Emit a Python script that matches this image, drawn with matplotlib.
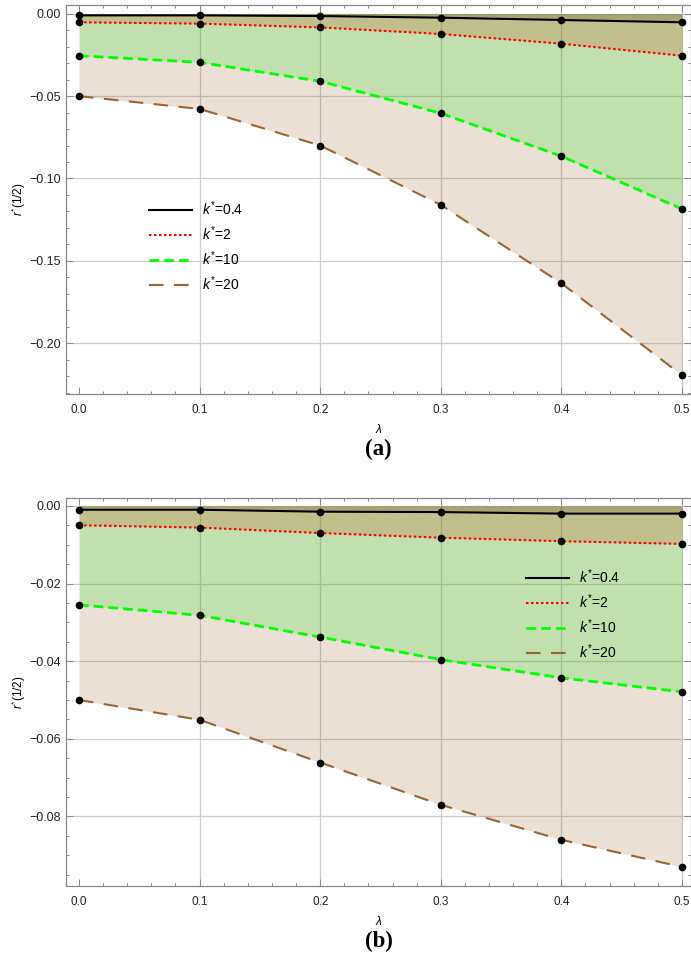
import matplotlib
matplotlib.use('Agg')
import matplotlib.pyplot as plt
from matplotlib.ticker import MultipleLocator, FuncFormatter

plt.rcParams['font.family'] = ['Liberation Sans', 'DejaVu Sans']
plt.rcParams['mathtext.fontset'] = 'custom'
plt.rcParams['mathtext.it'] = 'Liberation Sans:italic'
plt.rcParams['mathtext.rm'] = 'Liberation Sans'

# lambda values
lam = [0.0, 0.1, 0.2, 0.3, 0.4, 0.5]
labels = [r'$k^{*}$=0.4', r'$k^{*}$=2', r'$k^{*}$=10', r'$k^{*}$=20']

# panel (a)
a_k04 = [-0.0010, -0.0010, -0.0014, -0.0024, -0.0038, -0.0052]
a_k2 = [-0.0052, -0.0060, -0.0083, -0.0123, -0.0182, -0.0255]
a_k10 = [-0.0255, -0.0295, -0.0410, -0.0604, -0.0865, -0.1185]
a_k20 = [-0.0500, -0.0578, -0.0800, -0.1160, -0.1636, -0.2194]

# panel (b)
b_k04 = [-0.0010, -0.0010, -0.0015, -0.0016, -0.0020, -0.0020]
b_k2 = [-0.0050, -0.0056, -0.0070, -0.0082, -0.0091, -0.0098]
b_k10 = [-0.0255, -0.0282, -0.0338, -0.0396, -0.0443, -0.0479]
b_k20 = [-0.0500, -0.0551, -0.0661, -0.0770, -0.0860, -0.0930]

cols = ['black', 'red', (0.0, 1.0, 0.0), (0.6, 0.4, 0.2)]
dashes = [None, (1.2, 1.2), (3.5, 1.8), (7, 5)]
widths = [1.5, 1.5, 2.0, 1.5]


def fmt(v, pos, nd):
    s = ('%.' + str(nd) + 'f') % abs(v)
    return ('\u2212' + s) if v < -1e-9 else s


def panel(ax, series, ylim, ymaj, ymin, ynd, legloc, tag):
    for i, ys in enumerate(series):
        ax.fill_between(lam, ys, 0, color=cols[i], alpha=0.2, lw=0, zorder=1 + i * 0.1)
    for i, ys in enumerate(series):
        ln, = ax.plot(lam, ys, color=cols[i], lw=widths[i], label=labels[i], zorder=3)
        if dashes[i] is not None:
            ln.set_dashes(dashes[i])
        ax.plot(lam, ys, 'o', color='black', ms=4.5, zorder=4)
    ax.set_xlim(-0.0108, 0.5075)
    ax.set_ylim(*ylim)
    ax.xaxis.set_major_locator(MultipleLocator(0.1))
    ax.xaxis.set_minor_locator(MultipleLocator(0.02))
    ax.yaxis.set_major_locator(MultipleLocator(ymaj))
    ax.yaxis.set_minor_locator(MultipleLocator(ymin))
    ax.xaxis.set_major_formatter(FuncFormatter(lambda v, p: fmt(v, p, 1)))
    ax.yaxis.set_major_formatter(FuncFormatter(lambda v, p: fmt(v, p, ynd)))
    ax.tick_params(which='both', direction='in', top=True, right=True,
                   colors='#888888', labelcolor='#222222', labelsize=9, width=0.7)
    ax.tick_params(which='major', length=5)
    ax.tick_params(which='minor', length=2.5)
    ax.tick_params(axis='x', pad=7, labelsize=8.5)
    for sp in ax.spines.values():
        sp.set_color('#888888')
        sp.set_linewidth(0.9)
    for x in lam[1:]:
        ax.axvline(x, color='#cccccc', lw=0.9, zorder=0.5)
    ax.yaxis.grid(True, color='#cccccc', lw=0.9, zorder=0.5)
    ax.set_axisbelow(True)
    ax.set_xlabel(r'$\lambda$', fontsize=8.5, labelpad=5)
    ax.set_ylabel(r'$r^{*}$(1/2)', fontsize=8.5)
    ax.yaxis.set_label_coords(-0.061, 0.5)
    ax.legend(loc='upper left', bbox_to_anchor=legloc, frameon=False, fontsize=10,
              handlelength=3.1, handletextpad=0.7, labelspacing=0.45)
    ax.text(0.5, -0.143, tag, transform=ax.transAxes, ha='center', va='center',
            fontsize=16.5, fontweight='bold', family='Liberation Serif')


fig = plt.figure(figsize=(6.91, 9.56), dpi=100)
ax1 = fig.add_axes([66 / 691, 1 - 394 / 956, 625 / 691, 389 / 956])
ax2 = fig.add_axes([66 / 691, 1 - 886 / 956, 625 / 691, 388.3 / 956])

panel(ax1, [a_k04, a_k2, a_k10, a_k20], (-0.2308, 0.0053), 0.05, 0.01, 2,
      (0.113, 0.532), '(a)')
panel(ax2, [b_k04, b_k2, b_k10, b_k20], (-0.0979, 0.0021), 0.02, 0.005, 2,
      (0.716, 0.852), '(b)')

fig.savefig('out.png', dpi=100)
